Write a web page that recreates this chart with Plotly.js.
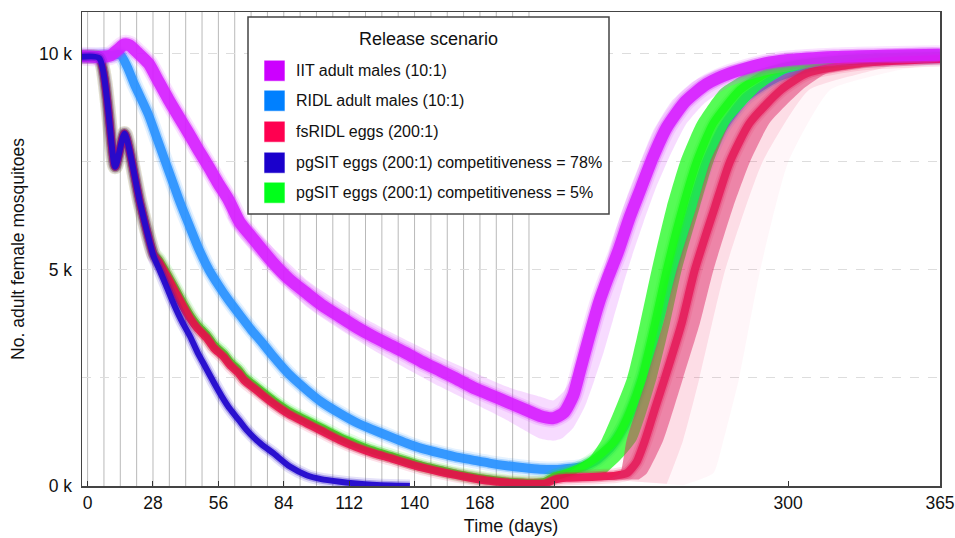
<!DOCTYPE html>
<html>
<head>
<meta charset="utf-8">
<script src="https://cdn.plot.ly/plotly-3.0.1.min.js"></script>
<style>html,body{margin:0;padding:0;background:#fff}#chart{width:955px;height:538px}</style>
</head>
<body>
<div id="chart"></div>
<script>
// ---------------- DATA ----------------
const releaseDays = [0,7,14,21,28,35,42,49,56,63,70,77,84,91,98,105,112,119,126,133,140,147,154,161,168,175,182,189];

const seriesNames = [
  'IIT adult males (10:1)',
  'RIDL adult males (10:1)',
  'fsRIDL eggs (200:1)',
  'pgSIT eggs (200:1) competitiveness = 78%',
  'pgSIT eggs (200:1) competitiveness = 5%'
];
const legendTitle = 'Release scenario';

// values in thousands of adult female mosquitoes
// IIT adult males (10:1)
const iitDays = [-3,5,10,13,15.8,18,21,26.1,30,34.7,39,43.3,47.5,51.8,56,60.4,65.2,70,79.5,86,93.8,100,108,115,122.3,130,136.6,143,150.9,158,165,172,179.4,186,193.7,199.4,204,208,211,215,219,223,227,232,237,242,248,256,265,275,290,300,320,340,365];
const iitFemales = [9.95,9.93,9.97,10.1,10.22,10.2,10.05,9.78,9.4,8.94,8.55,8.16,7.77,7.39,7.0,6.62,6.1,5.78,5.16,4.8,4.46,4.2,3.92,3.68,3.46,3.25,3.07,2.88,2.67,2.48,2.28,2.12,1.95,1.8,1.62,1.57,1.7,2.1,2.7,3.5,4.25,4.85,5.4,6.2,6.9,7.6,8.3,8.9,9.3,9.55,9.78,9.86,9.93,9.96,9.98];
const iitSpreadUpperDays = [60,65.2,93.8,122.3,150.9,179.4,193.7,199.4,204,208,212,216,221,226,231,236,242,250,259,270,285,305,335,365];
const iitSpreadUpper     = [6.75,6.32,4.77,3.77,2.99,2.30,2.07,1.98,2.2,2.6,3.3,4.1,5.0,5.9,6.7,7.4,8.2,8.9,9.35,9.65,9.85,9.98,10.08,10.12];
const iitSpreadLowerDays = [60,65.2,93.8,122.3,150.9,179.4,193.7,199.4,203,208,213,217,221,225,229,233,238,243,249,256,264,275,290,310,335,365];
const iitSpreadLower     = [6.2,5.76,4.15,3.15,2.30,1.53,1.1,1.05,1.1,1.35,1.85,2.45,3.1,3.85,4.6,5.3,6.1,6.85,7.6,8.35,8.85,9.25,9.5,9.68,9.8,9.84];

// RIDL adult males (10:1)
const ridlDays = [-3,10,14,17,20,26,30,35,39,43,47.5,52,56,60,65,70,75,79.5,86,93.8,100,108,115,122.3,130,136.6,143,150.9,158,165,172,179.4,186,193.7,200,206.5,212,218,224,230,236,242,248,253,259,265,272,282,295,310,330,365];
const ridlFemales = [9.95,9.97,9.98,9.7,9.3,8.6,8.0,7.25,6.65,6.1,5.5,5.0,4.65,4.33,3.97,3.62,3.3,3.0,2.6,2.22,1.95,1.68,1.47,1.30,1.13,0.99,0.87,0.76,0.67,0.60,0.53,0.47,0.43,0.39,0.38,0.41,0.45,0.6,0.9,1.4,2.2,3.3,4.5,5.4,6.5,7.5,8.3,9.0,9.45,9.7,9.85,9.92];

// fsRIDL eggs (200:1)
const fsridlDays = [-3,5,11.8,15.8,22.5,28.3,30.4,34,37.5,41,43.9,47,51.1,54,58.2,61,64.7,67,70.4,75,79.5,86,93.8,100,108,115,122.3,130,136.6,143,150.9,158,165,172,179.4,186,190.8,196,200,205,212,220,226,231,235,238.7,243,247.2,254.4,260,268.7,275,283.5,297,308,330,365];
const fsridlFemales = [9.93,9.9,7.39,8.16,6.54,5.35,5.19,4.85,4.50,4.15,3.88,3.65,3.42,3.2,2.99,2.8,2.61,2.45,2.30,2.1,1.91,1.67,1.45,1.28,1.06,0.9,0.76,0.64,0.53,0.43,0.33,0.25,0.18,0.12,0.08,0.06,0.05,0.06,0.15,0.19,0.2,0.22,0.24,0.3,0.55,1.06,1.8,2.5,3.77,5.0,6.47,7.5,8.4,9.17,9.55,9.78,9.88];
const fsridlRiseLevels    = [0.15,0.29,1.06,2.5,3.77,5.0,6.47,7.5,8.4,9.17,9.55,9.75];
const fsridlRiseEarlyDays = [222,228,230.8,239.4,246.5,252.2,260.8,266.5,275,288,299.4,320];
const fsridlRiseLateDays  = [236,239.4,246.5,255,262.2,268,276.5,283.6,292,306,316.5,340];
const fsridlMidLevels     = [0.05,1.06,2.5,5.0,7.5,9.17,9.75];
const fsridlMidLateDays   = [248,255,262,273,289,309,345];
const fsridlTailLevels    = [0.02,0.3,1.0,2.5,5.0,7.5,9.17,9.6,9.8];
const fsridlTailLateDays  = [255,268,272,279,288,300,318,345,365];

// pgSIT eggs (200:1) competitiveness = 78%
const pgsit78Days = [-3,5,11.8,15.8,22.5,28.3,30.4,33,36.1,40,43.9,47,50.4,54,57.5,61,64.7,68,72.4,76,79.5,86.6,93.8,100,108,115,122,130,138];
const pgsit78Females = [9.93,9.9,7.39,8.16,6.54,5.31,5.05,4.72,4.31,3.85,3.46,3.1,2.76,2.4,2.07,1.78,1.53,1.3,1.06,0.9,0.76,0.45,0.25,0.16,0.1,0.06,0.03,0.01,0.0];

// pgSIT eggs (200:1) competitiveness = 5%
const pgsit5Days = [-3,5,11.8,15.8,22.5,28.3,30.4,34,37.5,41,43.9,47,51.1,54,58.2,61,64.7,67,70.4,75,79.5,86,93.8,100,108,115,122.3,130,136.6,143,150.9,158,165,172,179.4,186,190.8,196,200,205,210,215,220,226,232,237.4,243,248,255,260.8,268,279.4,290.5,300,320,340,365];
const pgsit5Females = [9.93,9.9,7.39,8.16,6.54,5.37,5.24,4.91,4.57,4.22,3.95,3.72,3.49,3.27,3.06,2.87,2.68,2.52,2.37,2.17,1.98,1.74,1.52,1.35,1.13,0.97,0.82,0.69,0.58,0.47,0.37,0.28,0.21,0.15,0.1,0.08,0.07,0.1,0.22,0.3,0.4,0.55,0.75,1.06,1.7,2.5,3.77,5.0,6.47,7.5,8.4,9.17,9.55,9.72,9.86,9.92,9.95];
const pgsit5RiseLevels    = [0.3,0.6,1.06,2.5,3.77,5.0,6.47,7.5,8.4,9.17,9.55,9.8];
const pgsit5RiseEarlyDays = [205,214,220,231,236.6,241.5,248,253.7,260.8,270.8,282,300];
const pgsit5RiseLateDays  = [222,228,235,243.7,249.4,254.4,262.2,268,275,288,299,318];

// axis ticks
const xTickVals = [0,28,56,84,112,140,168,200,300,365];
const yTickVals = [0,5,10];
const yTickText = ['0 k','5 k','10 k'];

// ---------------- STYLE ----------------
const colors = {
  iit: '#cc00ff', ridl: '#0080ff', fsridl: '#ff0050', pg78: '#1a00cc', pg5: '#00ff1a'
};

function line(x, y, color, width) {
  return {type:'scatter', mode:'lines', x:x, y:y, showlegend:false, hoverinfo:'skip',
          line:{color:color, width:width, shape:'spline', smoothing:0.6}};
}
function band(xa, ya, xb, yb, fill) {
  return {type:'scatter', mode:'lines', x:xa.concat(xb.slice().reverse()), y:ya.concat(yb.slice().reverse()),
          fill:'toself', fillcolor:fill, line:{width:0, shape:'spline', smoothing:0.5}, showlegend:false, hoverinfo:'skip'};
}
function soft(x, y, rgb, core, alpha) {
  return [
    line(x, y, 'rgba(' + rgb + ',0.12)', core + 7),
    line(x, y, 'rgba(' + rgb + ',0.3)', core + 3),
    line(x, y, 'rgba(' + rgb + ',' + alpha + ')', core)
  ];
}

const traces = [];
// fsRIDL late runs (faint)
traces.push(band(fsridlRiseEarlyDays, fsridlRiseLevels, fsridlTailLateDays, fsridlTailLevels, 'rgba(245,40,110,0.045)'));
traces.push(band(fsridlRiseEarlyDays, fsridlRiseLevels, fsridlMidLateDays, fsridlMidLevels, 'rgba(235,40,100,0.12)'));
// RIDL
traces.push(...soft(ridlDays, ridlFemales, '40,145,255', 9, 0.9));
// pgSIT 5%
traces.push(...soft(pgsit5Days, pgsit5Females, '20,250,20', 8, 0.9));
traces.push(band(pgsit5RiseEarlyDays, pgsit5RiseLevels, pgsit5RiseLateDays, pgsit5RiseLevels, 'rgba(30,250,30,0.75)'));
// fsRIDL
traces.push(...soft(fsridlDays, fsridlFemales, '235,10,75', 8, 0.88));
traces.push(band(fsridlRiseEarlyDays, fsridlRiseLevels, fsridlRiseLateDays, fsridlRiseLevels, 'rgba(222,45,105,0.5)'));
// IIT
traces.push(band(iitSpreadUpperDays, iitSpreadUpper, iitSpreadLowerDays, iitSpreadLower, 'rgba(220,90,255,0.22)'));
traces.push(...soft(iitDays, iitFemales, '214,30,255', 12, 0.88));
// pgSIT 78%
traces.push(...soft(pgsit78Days, pgsit78Females, '35,10,205', 6, 0.95));

// ---------------- LAYOUT ----------------
const plotL = 82, plotR = 940, plotT = 12, plotB = 486;
const W = plotR - plotL, H = plotB - plotT;
const px = v => (v - plotL) / W;
const py = v => (plotB - v) / H;

const shapes = releaseDays.map(d => ({type:'line', xref:'x', yref:'paper', x0:d, x1:d, y0:0, y1:1,
  line:{color:'#b9b9b9', width:1}, layer:'below'}));

// manual legend box
shapes.push({type:'rect', xref:'paper', yref:'paper', x0:px(248), x1:px(609), y0:py(214), y1:py(17),
  line:{color:'#444', width:1.5}, fillcolor:'#ffffff', layer:'above'});
const legendColors = [colors.iit, colors.ridl, colors.fsridl, colors.pg78, colors.pg5];
const legendY = [70.7, 100.7, 131.7, 162.7, 192.7];
const annotations = [{xref:'paper', yref:'paper', x:px(428.5), y:py(39.3), text:legendTitle, showarrow:false,
  xanchor:'center', yanchor:'middle', font:{size:18, color:'#111'}}];
seriesNames.forEach((n, i) => {
  shapes.push({type:'rect', xref:'paper', yref:'paper', x0:px(264), x1:px(285), y0:py(legendY[i]+10.5), y1:py(legendY[i]-10.5),
    line:{color:'rgba(255,255,255,0.6)', width:1}, fillcolor:legendColors[i], layer:'above'});
  annotations.push({xref:'paper', yref:'paper', x:px(294), y:py(legendY[i]), text:n, showarrow:false,
    xanchor:'left', yanchor:'middle', font:{size:16, color:'#111'}});
});

const layout = {
  width:955, height:538,
  margin:{l:plotL, r:955-plotR, t:plotT, b:538-plotB, pad:0},
  paper_bgcolor:'#fff', plot_bgcolor:'#fff',
  font:{family:'Liberation Sans, Arial, sans-serif', color:'#111', size:17},
  showlegend:false,
  xaxis:{range:[-2.4,365], tickvals:xTickVals, ticks:'inside', ticklen:5, tickcolor:'#333', tickwidth:1,
    showgrid:false, zeroline:false, showline:true, mirror:true, linecolor:'#444', linewidth:1.5,
    tickfont:{size:17.5}, title:{text:'Time (days)', font:{size:18}, standoff:8}},
  yaxis:{range:[0,10.97], tickvals:yTickVals, ticktext:yTickText, ticks:'', showgrid:true,
    gridcolor:'#dddddd', griddash:'dash', gridwidth:1,
    minor:{tickvals:[2.5,7.5], showgrid:true, gridcolor:'#dddddd', griddash:'dash', gridwidth:1},
    zeroline:false, showline:true, mirror:true, linecolor:'#444', linewidth:1.5,
    tickfont:{size:17.5}, ticklabelstandoff:5,
    title:{text:'No. adult female mosquitoes', font:{size:17.5}, standoff:10}},
  shapes:shapes, annotations:annotations
};

Plotly.newPlot('chart', traces, layout, {staticPlot:true, displayModeBar:false});
</script>
</body>
</html>
